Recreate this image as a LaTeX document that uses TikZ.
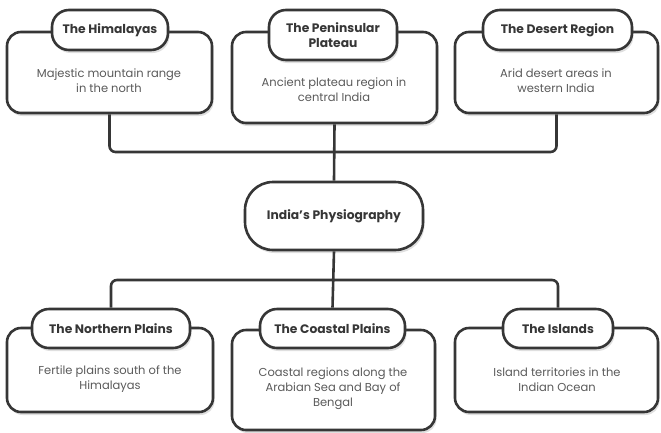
\documentclass[tikz,border=0pt]{standalone}
\usepackage{fontspec}
\setmainfont{Poppins}
\usetikzlibrary{shadows,calc}
\definecolor{ink}{HTML}{363636}
\definecolor{desc}{HTML}{5A5A5A}
\tikzset{
  outerbox/.style={draw=ink, line width=2.6pt, fill=white, rounded corners=14pt,
    drop shadow={shadow xshift=1.5pt, shadow yshift=-3pt, opacity=0.25}},
  titlepill/.style={draw=ink, line width=2.6pt, fill=white, rounded corners=17pt,
    align=center, text=ink, font=\bfseries\fontsize{12.3}{15}\selectfont,
    drop shadow={shadow xshift=1.5pt, shadow yshift=-3pt, opacity=0.25}},
  rootnode/.style={draw=ink, line width=2.6pt, fill=white, rounded corners=28pt,
    text=ink, font=\bfseries\fontsize{12.3}{15}\selectfont,
    drop shadow={shadow xshift=1.5pt, shadow yshift=-3pt, opacity=0.25}},
  desctext/.style={align=center, text=desc, font=\fontsize{11.5}{15}\selectfont},
  conn/.style={draw=ink, line width=2.6pt, rounded corners=6pt},
}
\begin{document}
\begin{tikzpicture}[x=1pt,y=-1pt]
\useasboundingbox (0,0) rectangle (661,432);
\coordinate (jt) at (334,152);
\coordinate (jb) at (334,280);
% top row boxes
\node[outerbox, minimum width=205pt, minimum height=81pt] (him) at (109.5,72.5) {};
\node[outerbox, minimum width=205pt, minimum height=91pt] (pen) at (334.5,77.5) {};
\node[outerbox, minimum width=203pt, minimum height=81pt] (des) at (556.5,72.5) {};
% root
\node[rootnode, minimum width=178pt, minimum height=68pt] (root) at (334,216) {India's Physiography};
% bottom row boxes
\node[outerbox, minimum width=206pt, minimum height=84pt] (nor) at (110,370) {};
\node[outerbox, minimum width=203pt, minimum height=100pt] (cst) at (333.5,380) {};
\node[outerbox, minimum width=203pt, minimum height=84pt] (isl) at (556.5,370) {};
% titles
\node[titlepill, minimum width=116pt, minimum height=40pt] (him-t) at (110,30) {The Himalayas};
\node[titlepill, minimum width=128pt, minimum height=50pt, inner sep=2pt] (pen-t) at (333,35) {The Peninsular\\Plateau};
\node[titlepill, minimum width=149pt, minimum height=40pt] (des-t) at (557.5,30) {The Desert Region};
\node[titlepill, minimum width=158pt, minimum height=39pt] (nor-t) at (111,328.5) {The Northern Plains};
\node[titlepill, minimum width=145pt, minimum height=39pt] (cst-t) at (332.5,328.5) {The Coastal Plains};
\node[titlepill, minimum width=110pt, minimum height=39pt] (isl-t) at (558,328.5) {The Islands};
% descriptions
\node[desctext] (him-d) at (109,80.5) {Majestic mountain range\\in the north};
\node[desctext] (pen-d) at (334,89.5) {Ancient plateau region in\\central India};
\node[desctext] (des-d) at (556,80.5) {Arid desert areas in\\western India};
\node[desctext] (nor-d) at (110,379.5) {Fertile plains south of the\\Himalayas};
\node[desctext] (cst-d) at (333,389) {Coastal regions along the\\Arabian Sea and Bay of\\Bengal};
\node[desctext] (isl-d) at (557,379.5) {Island territories in the\\Indian Ocean};
% connectors
\draw[conn] (him.south) |- (jt);
\draw[conn] (des.south) |- (jt);
\draw[conn] (pen.south) -- (root.north);
\draw[conn] (root.south) -- (cst-t.north);
\draw[conn] (nor-t.north) |- (jb);
\draw[conn] (isl-t.north) |- (jb);
\end{tikzpicture}
\end{document}
